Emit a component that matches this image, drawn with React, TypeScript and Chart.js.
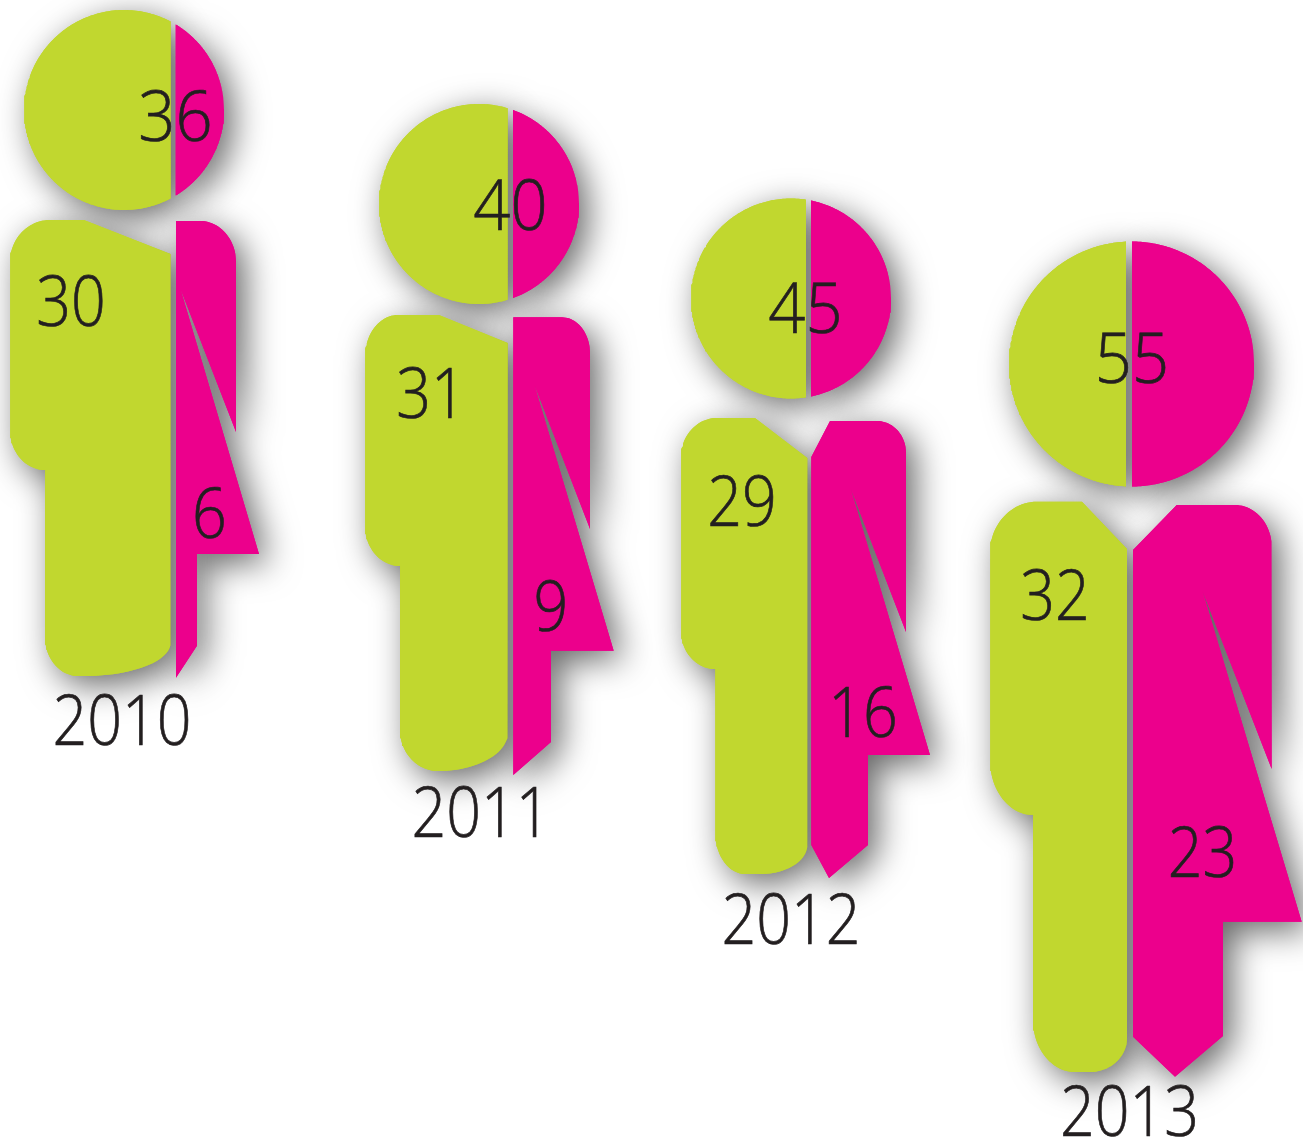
import React, { useEffect, useRef } from "react";
import { Chart, registerables } from "chart.js";

Chart.register(...registerables);

const WIDTH = 1303;
const HEIGHT = 1138;

// Chart values
const years = ["2010", "2011", "2012", "2013"];
const maleValues = [30, 31, 29, 32];
const femaleValues = [6, 9, 16, 23];
const totalValues = [36, 40, 45, 55];

// Head geometry in axis units: [centre x, centre y, radius, green edge, pink edge]
const heads = [
  [124, 110, 100, 170.7, 175.7],
  [479, 204, 100, 507.7, 513],
  [791, 298.5, 100, 806, 811],
  [1131.5, 364, 122.5, 1126, 1132],
];

// Body outlines in axis units: [x, y] or a rounded corner [x, y, cut before, cut after]
const maleBodies = [
  [[84, 220], [170.5, 254], [170.5, 676, 33, 86], [45, 676, 33, 39], [45, 470], [10, 470, 35, 40], [10, 220, 42, 40]],
  [[439, 315], [507.7, 343], [507.7, 771, 38, 70], [400, 771, 38, 41], [400, 566], [365, 566, 35, 40], [365, 315, 42, 33]],
  [[755, 418], [807.3, 458], [807.3, 874, 29, 47], [715.3, 874, 30, 41], [715.3, 669], [681, 669, 34, 38], [681, 418, 39, 36]],
  [[1082, 501.7], [1127, 549], [1127, 1072, 34, 37], [1033, 1072, 42, 52], [1033, 815], [990, 815, 43, 55], [990, 501.7, 51, 47]],
];
const femaleBodies = [
  [[176, 221], [236, 221, 36, 41], [236, 432], [180.5, 289], [259, 554], [197, 554], [197, 645.7], [176, 677.7]],
  [[513.3, 317.3], [590, 317.3, 28, 36], [590, 529], [534.5, 385], [613.7, 650.7], [551, 650.7], [551, 742], [513.3, 775]],
  [[811.3, 457], [830, 421], [906, 421, 29, 32], [906, 632], [850.5, 488], [930, 755], [868, 755], [868, 845], [829, 878], [811.3, 845]],
  [[1133, 550], [1176.7, 505], [1271.7, 505, 37, 42], [1271.7, 769], [1202.5, 591], [1301.7, 921.7], [1223, 921.7], [1223, 1036], [1175, 1076.7], [1133, 1036.7]],
];

// Label anchors in axis units: [centre x, baseline y]
const totalAnchors = [[175.5, 141], [510.5, 229.5], [805.5, 333], [1132, 383]];
const maleAnchors = [[71, 326], [431, 418], [742, 526], [1055, 620]];
const femaleAnchors = [[209.5, 538], [551, 631], [863, 737], [1202.5, 877]];
const yearAnchors = [[122, 745], [481, 837], [791, 944], [1129.5, 1136]];

const GREEN = "#c1d72f";
const PINK = "#ec008c";
const INK = "#231f20";

type Pt = { x: number; y: number };

function expandOutline(vertices: number[][]): Pt[] {
  const out: Pt[] = [];
  const n = vertices.length;
  vertices.forEach((v, i) => {
    if (v.length < 4) {
      out.push({ x: v[0], y: v[1] });
      return;
    }
    const prev = vertices[(i - 1 + n) % n];
    const next = vertices[(i + 1) % n];
    const lenA = Math.hypot(prev[0] - v[0], prev[1] - v[1]);
    const lenB = Math.hypot(next[0] - v[0], next[1] - v[1]);
    const a = { x: v[0] + ((prev[0] - v[0]) * v[2]) / lenA, y: v[1] + ((prev[1] - v[1]) * v[2]) / lenA };
    const b = { x: v[0] + ((next[0] - v[0]) * v[3]) / lenB, y: v[1] + ((next[1] - v[1]) * v[3]) / lenB };
    const k = 0.5523;
    const c1 = { x: a.x + (v[0] - a.x) * k, y: a.y + (v[1] - a.y) * k };
    const c2 = { x: b.x + (v[0] - b.x) * k, y: b.y + (v[1] - b.y) * k };
    for (let s = 0; s <= 24; s++) {
      const t = s / 24;
      const u = 1 - t;
      out.push({
        x: u * u * u * a.x + 3 * u * u * t * c1.x + 3 * u * t * t * c2.x + t * t * t * b.x,
        y: u * u * u * a.y + 3 * u * u * t * c1.y + 3 * u * t * t * c2.y + t * t * t * b.y,
      });
    }
  });
  return out;
}

function headPart(h: number[], side: "green" | "pink"): Pt[] {
  const [cx, cy, r, greenEdge, pinkEdge] = h;
  const edge = side === "green" ? greenEdge : pinkEdge;
  const half = Math.acos((edge - cx) / r);
  const out: Pt[] = [];
  const from = side === "green" ? half : -half;
  const to = side === "green" ? 2 * Math.PI - half : half;
  const steps = 180;
  for (let i = 0; i <= steps; i++) {
    const a = from + ((to - from) * i) / steps;
    out.push({ x: cx + r * Math.cos(a), y: cy + r * Math.sin(a) });
  }
  return out;
}

function shape(data: Pt[], color: string, order: number, label: string) {
  return {
    label,
    data,
    order,
    fill: "shape",
    backgroundColor: color,
    borderWidth: 0,
    pointRadius: 0,
    pointHoverRadius: 0,
    tension: 0,
  };
}

export default function App() {
  const ref = useRef<HTMLCanvasElement | null>(null);

  useEffect(() => {
    if (!ref.current) return;
    const solid: any[] = [];
    years.forEach((year, i) => {
      solid.push(shape(headPart(heads[i], "green"), GREEN, 4, `${year} head male`));
      solid.push(shape(headPart(heads[i], "pink"), PINK, 3, `${year} head female`));
      solid.push(shape(expandOutline(maleBodies[i]), GREEN, 2, `${year} body male`));
      solid.push(shape(expandOutline(femaleBodies[i]), PINK, 1, `${year} body female`));
    });
    // The same shapes are painted twice: first with the drop shadow, then clean on top,
    // so that no shadow ever falls on a coloured part.
    const shadowed = solid.map((d) => ({ ...d, order: d.order + 10, label: `${d.label} shadow` }));
    const datasets = [...solid, ...shadowed];

    let painted = 0;
    const softShadow = {
      id: "softShadow",
      beforeDatasetsDraw(chart: any) {
        const c = chart.ctx;
        painted = 0;
        c.save();
        c.shadowColor = "rgba(0,0,0,0.6)";
        c.shadowBlur = 34;
        c.shadowOffsetX = 9;
        c.shadowOffsetY = 9;
      },
      afterDatasetDraw(chart: any) {
        painted += 1;
        if (painted === shadowed.length) chart.ctx.shadowColor = "rgba(0,0,0,0)";
      },
      afterDatasetsDraw(chart: any) {
        chart.ctx.restore();
      },
    };

    const valueLabels = {
      id: "valueLabels",
      afterDraw(chart: any) {
        const c = chart.ctx;
        const sx = chart.scales.x;
        const sy = chart.scales.y;
        const put = (text: string, a: number[], squeeze: number) => {
          c.save();
          c.translate(sx.getPixelForValue(a[0]), sy.getPixelForValue(a[1]));
          c.scale(squeeze, 1);
          c.font = '300 70px "Open Sans"';
          c.fillStyle = INK;
          c.strokeStyle = INK;
          c.lineWidth = 0.7;
          c.textAlign = "center";
          c.textBaseline = "alphabetic";
          c.fillText(text, 0, 0);
          c.strokeText(text, 0, 0);
          c.restore();
        };
        years.forEach((year, i) => {
          put(String(totalValues[i]), totalAnchors[i], 0.93);
          put(String(maleValues[i]), maleAnchors[i], 0.87);
          put(String(femaleValues[i]), femaleAnchors[i], 0.87);
          put(year, yearAnchors[i], 0.87);
        });
      },
    };

    const chart = new Chart(ref.current, {
      type: "line",
      data: { datasets },
      options: {
        indexAxis: "y",
        responsive: false,
        animation: false,
        events: [],
        layout: { padding: 0 },
        scales: {
          x: { type: "linear", min: 0, max: WIDTH, display: false },
          y: { type: "linear", min: 0, max: HEIGHT, reverse: true, display: false },
        },
        plugins: { legend: { display: false }, tooltip: { enabled: false }, title: { display: false } },
      },
      plugins: [softShadow, valueLabels],
    } as any);
    return () => chart.destroy();
  }, []);

  return (
    <div style={{ position: "absolute", left: 0, top: 0, width: WIDTH, height: HEIGHT }}>
      <canvas ref={ref} width={WIDTH} height={HEIGHT} style={{ display: "block" }} />
    </div>
  );
}
